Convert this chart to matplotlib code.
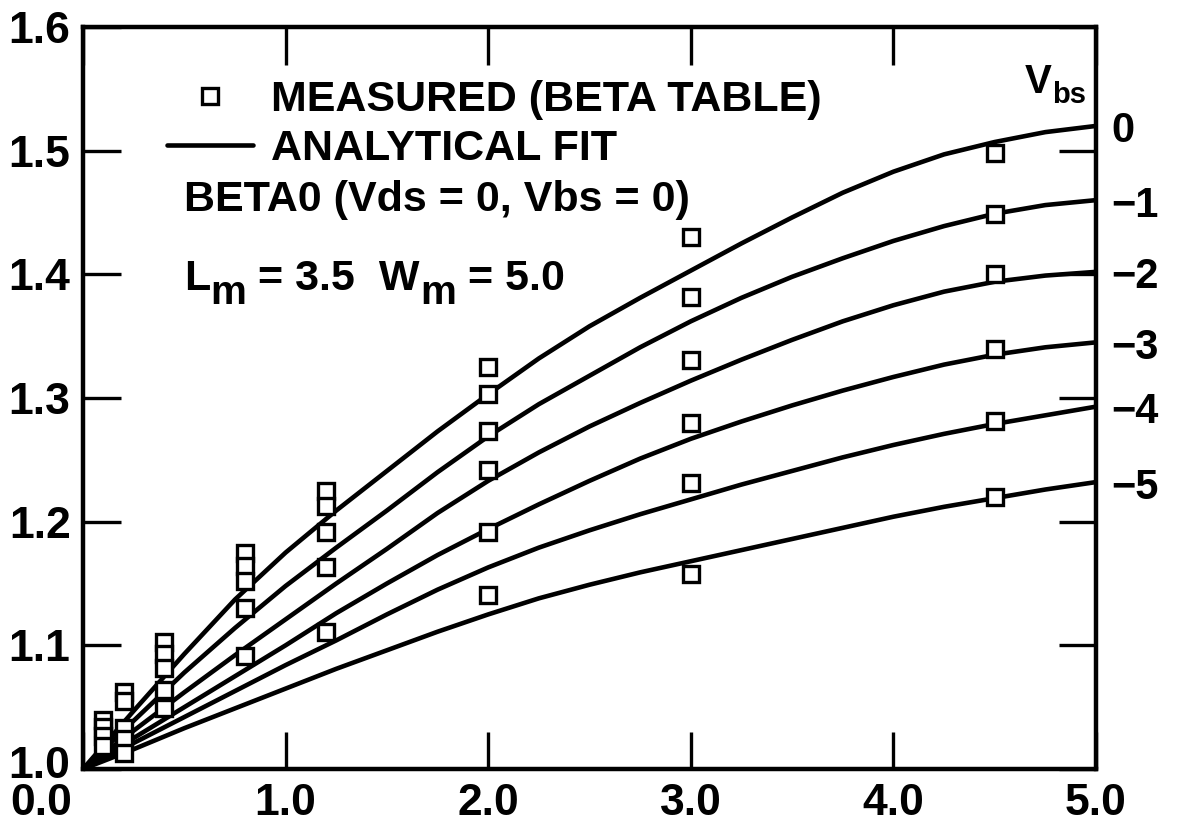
import matplotlib
matplotlib.use("Agg")
import matplotlib.pyplot as plt
import matplotlib.transforms as mtransforms

FONT = "Liberation Sans"
plt.rcParams["font.family"] = [FONT, "DejaVu Sans"]
plt.rcParams["font.weight"] = "bold"

# ---------------- data ----------------
x_fit = [0.0, 0.25, 0.5, 0.75, 1.0, 1.25, 1.5, 1.75, 2.0, 2.25, 2.5,
         2.75, 3.0, 3.25, 3.5, 3.75, 4.0, 4.25, 4.5, 4.75, 5.0]
fit_vbs0 = [1.000, 1.047, 1.093, 1.137, 1.175, 1.209, 1.241, 1.273, 1.303, 1.332, 1.358,
            1.381, 1.403, 1.425, 1.446, 1.466, 1.483, 1.497, 1.507, 1.515, 1.520]
fit_vbs1 = [1.000, 1.039, 1.078, 1.114, 1.148, 1.179, 1.209, 1.240, 1.269, 1.295, 1.318,
            1.341, 1.362, 1.381, 1.398, 1.413, 1.427, 1.439, 1.449, 1.456, 1.460]
fit_vbs2 = [1.000, 1.031, 1.062, 1.092, 1.121, 1.150, 1.178, 1.207, 1.233, 1.256, 1.277,
            1.296, 1.314, 1.331, 1.347, 1.362, 1.375, 1.386, 1.394, 1.399, 1.402]
fit_vbs3 = [1.000, 1.025, 1.050, 1.075, 1.100, 1.126, 1.150, 1.173, 1.194, 1.214, 1.233,
            1.251, 1.267, 1.281, 1.294, 1.306, 1.317, 1.327, 1.335, 1.341, 1.345]
fit_vbs4 = [1.000, 1.021, 1.042, 1.063, 1.084, 1.104, 1.125, 1.145, 1.163, 1.179, 1.193,
            1.206, 1.218, 1.230, 1.241, 1.252, 1.262, 1.271, 1.279, 1.286, 1.293]
fit_vbs5 = [1.000, 1.016, 1.033, 1.049, 1.065, 1.081, 1.096, 1.111, 1.125, 1.138, 1.149,
            1.159, 1.168, 1.177, 1.186, 1.195, 1.204, 1.212, 1.219, 1.226, 1.232]
vbs_labels = ["0", "\u22121", "\u22122", "\u22123", "\u22124", "\u22125"]

meas_x = ([0.1] * 4 + [0.2] * 5 + [0.4] * 5 + [0.8] * 5 + [1.2] * 5
          + [2.0] * 6 + [3.0] * 6 + [4.5] * 6)
meas_y = [1.040, 1.034, 1.027, 1.019,
          1.062, 1.055, 1.033, 1.024, 1.013,
          1.103, 1.093, 1.082, 1.064, 1.049,
          1.175, 1.164, 1.152, 1.130, 1.091,
          1.225, 1.213, 1.192, 1.163, 1.111,
          1.325, 1.303, 1.273, 1.242, 1.192, 1.141,
          1.430, 1.382, 1.331, 1.280, 1.231, 1.158,
          1.498, 1.449, 1.400, 1.340, 1.281, 1.220]

x_ticks = [0.0, 1.0, 2.0, 3.0, 4.0, 5.0]
x_ticklabels = ["0.0", "1.0", "2.0", "3.0", "4.0", "5.0"]
y_ticks = [1.0, 1.1, 1.2, 1.3, 1.4, 1.5, 1.6]
y_ticklabels = ["1.0", "1.1", "1.2", "1.3", "1.4", "1.5", "1.6"]

legend_labels = ["MEASURED (BETA TABLE)", "ANALYTICAL FIT"]
note_text = "BETA0 (Vds = 0, Vbs = 0)"

# ---------------- figure ----------------
W, H = 1177, 826
fig = plt.figure(figsize=(W / 100, H / 100), dpi=100)
ax = fig.add_axes([83 / W, 1 - 769 / H, (1096 - 83) / W, (769 - 27) / H])

fits = [fit_vbs0, fit_vbs1, fit_vbs2, fit_vbs3, fit_vbs4, fit_vbs5]
line_handle = None
for ys, lab in zip(fits, vbs_labels):
    ln, = ax.plot(x_fit, ys, color="black", lw=3.3, solid_capstyle="round",
                  solid_joinstyle="round", zorder=2)
    if line_handle is None:
        line_handle = ln
    ax.annotate(lab, xy=(x_fit[-1], ys[-1]), xycoords="data",
                xytext=(11, -4), textcoords="offset points",
                ha="left", va="center", fontsize=30, fontweight="bold",
                annotation_clip=False)

mk, = ax.plot(meas_x, meas_y, linestyle="none", marker="s", markersize=11,
              markerfacecolor="white", markeredgecolor="black",
              markeredgewidth=2.4, zorder=3)

ax.set_xlim(0, 5)
ax.set_ylim(1.0, 1.6)
ax.set_xticks(x_ticks)
ax.set_xticklabels(x_ticklabels)
ax.set_yticks(y_ticks)
ax.set_yticklabels(y_ticklabels)
ax.tick_params(direction="in", length=27, width=2.4, top=True, right=True,
               labelsize=32, color="black")
ax.tick_params(axis="x", pad=10)
ax.tick_params(axis="y", pad=9)
for lbl in ax.get_xticklabels() + ax.get_yticklabels():
    lbl.set_fontweight("bold")
# "0.0" sits left of the origin, below the "1.0" y label
first = ax.get_xticklabels()[0]
first.set_transform(first.get_transform() +
                    mtransforms.ScaledTranslation(-42 / 100, 0, fig.dpi_scale_trans))
ylab0 = ax.get_yticklabels()[0]
ylab0.set_transform(ylab0.get_transform() +
                    mtransforms.ScaledTranslation(0, 7 / 100, fig.dpi_scale_trans))

for sp in ax.spines.values():
    sp.set_linewidth(3.2)

# legend
leg = ax.legend([mk, line_handle], legend_labels,
                loc="upper left", bbox_to_anchor=(0.083, 0.929), frameon=False,
                prop={"family": FONT, "weight": "bold", "size": 31},
                handlelength=2.0, handletextpad=0.42, labelspacing=0.22,
                borderpad=0, borderaxespad=0, numpoints=1)

ax.text(0.1, 0.752, note_text, transform=ax.transAxes,
        ha="left", va="baseline", fontsize=31, fontweight="bold")


def chain(prev, s, dy, size):
    """Place text s right after artist prev, baseline shifted by dy points."""
    return ax.annotate(s, xy=(1, 0), xycoords=prev, xytext=(0, dy),
                       textcoords="offset points", ha="left", va="bottom",
                       fontsize=size, fontweight="bold")


tL = ax.text(0.1, 0.645, "L", transform=ax.transAxes, ha="left",
             va="baseline", fontsize=31, fontweight="bold")
tm1 = chain(tL, "m", -9, 29)
te1 = chain(tm1, " = 3.5  W", 9, 31)
tm2 = chain(te1, "m", -9, 29)
te2 = chain(tm2, " = 5.0", 9, 31)

tV = ax.text(0.930, 0.911, "V", transform=ax.transAxes, ha="left",
             va="baseline", fontsize=29, fontweight="bold")
tbs = chain(tV, "bs", -6, 21)

fig.savefig("out.png", dpi=100, facecolor="white")
